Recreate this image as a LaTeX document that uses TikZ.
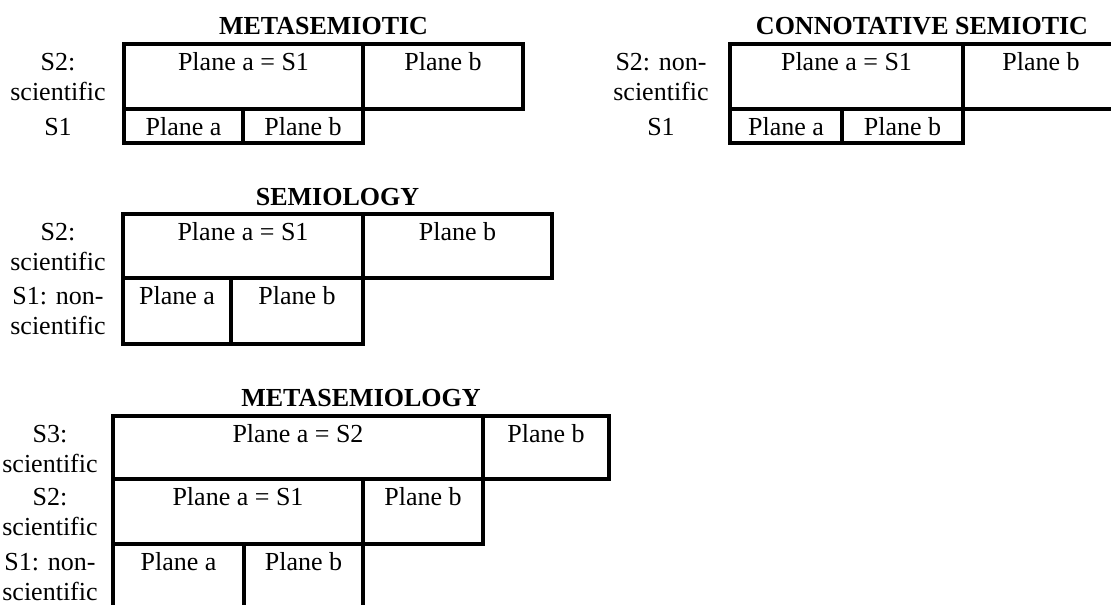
\documentclass[tikz,border=0pt]{standalone}
\usepackage{fontspec}
\setmainfont{Liberation Serif}
\tikzset{
  frame/.style={line width=3.5pt, line join=miter},
  txt/.style={anchor=base, inner sep=0pt, font=\fontsize{26}{30}\selectfont},
  heading/.style={anchor=base, inner sep=0pt, font=\fontsize{26}{30}\selectfont\bfseries},
}
\begin{document}
\begin{tikzpicture}[x=1pt,y=-1pt]
\useasboundingbox (0,0) rectangle (1111,605);

% ---------- METASEMIOTIC ----------
\node[heading] (msT) at (323.5,34) {METASEMIOTIC};
\draw[frame] (124,44) rectangle (523,109);
\draw[frame] (363,44) -- (363,109);
\draw[frame] (124,109) rectangle (363,143);
\draw[frame] (243,109) -- (243,143);
\node[txt] (msA2) at (243.5,70) {Plane a = S1};
\node[txt] (msB2) at (443,70) {Plane b};
\node[txt] (msA1) at (183.5,135) {Plane a};
\node[txt] (msB1) at (303,135) {Plane b};
\node[txt] (msL2a) at (58,70) {S2:};
\node[txt] (msL2b) at (58,100) {scientific};
\node[txt] (msL1) at (58,135) {S1};

% ---------- CONNOTATIVE SEMIOTIC ----------
\node[heading] (csT) at (922,34) {CONNOTATIVE SEMIOTIC};
\draw[frame] (730,44) rectangle (1119,109);
\draw[frame] (963,44) -- (963,109);
\draw[frame] (730,109) rectangle (963,143);
\draw[frame] (842,109) -- (842,143);
\node[txt] (csA2) at (846.5,70) {Plane a = S1};
\node[txt] (csB2) at (1041,70) {Plane b};
\node[txt] (csA1) at (786,135) {Plane a};
\node[txt] (csB1) at (902.5,135) {Plane b};
\node[txt] (csL2a) at (661,70) {S2: non-};
\node[txt] (csL2b) at (661,100) {scientific};
\node[txt] (csL1) at (661,135) {S1};

% ---------- SEMIOLOGY ----------
\node[heading] (smT) at (337.5,205) {SEMIOLOGY};
\draw[frame] (123,214) rectangle (552,278);
\draw[frame] (363,214) -- (363,278);
\draw[frame] (123,278) rectangle (363,344);
\draw[frame] (231,278) -- (231,344);
\node[txt] (smA2) at (243,240) {Plane a = S1};
\node[txt] (smB2) at (457.5,240) {Plane b};
\node[txt] (smA1) at (177,304) {Plane a};
\node[txt] (smB1) at (297,304) {Plane b};
\node[txt] (smL2a) at (58,240) {S2:};
\node[txt] (smL2b) at (58,270) {scientific};
\node[txt] (smL1a) at (58,304) {S1: non-};
\node[txt] (smL1b) at (58,334) {scientific};

% ---------- METASEMIOLOGY ----------
\node[heading] (mlT) at (361,406) {METASEMIOLOGY};
\draw[frame] (113,416) rectangle (609,479);
\draw[frame] (483,416) -- (483,479);
\draw[frame] (113,479) rectangle (483,544);
\draw[frame] (363,479) -- (363,544);
\draw[frame] (113,544) rectangle (363,610);
\draw[frame] (244,544) -- (244,610);
\node[txt] (mlA3) at (298,442) {Plane a = S2};
\node[txt] (mlB3) at (546,442) {Plane b};
\node[txt] (mlA2) at (238,505) {Plane a = S1};
\node[txt] (mlB2) at (423,505) {Plane b};
\node[txt] (mlA1) at (178.5,570) {Plane a};
\node[txt] (mlB1) at (303.5,570) {Plane b};
\node[txt] (mlL3a) at (50,442) {S3:};
\node[txt] (mlL3b) at (50,472) {scientific};
\node[txt] (mlL2a) at (50,505) {S2:};
\node[txt] (mlL2b) at (50,535) {scientific};
\node[txt] (mlL1a) at (50,570) {S1: non-};
\node[txt] (mlL1b) at (50,600) {scientific};
\end{tikzpicture}
\end{document}
